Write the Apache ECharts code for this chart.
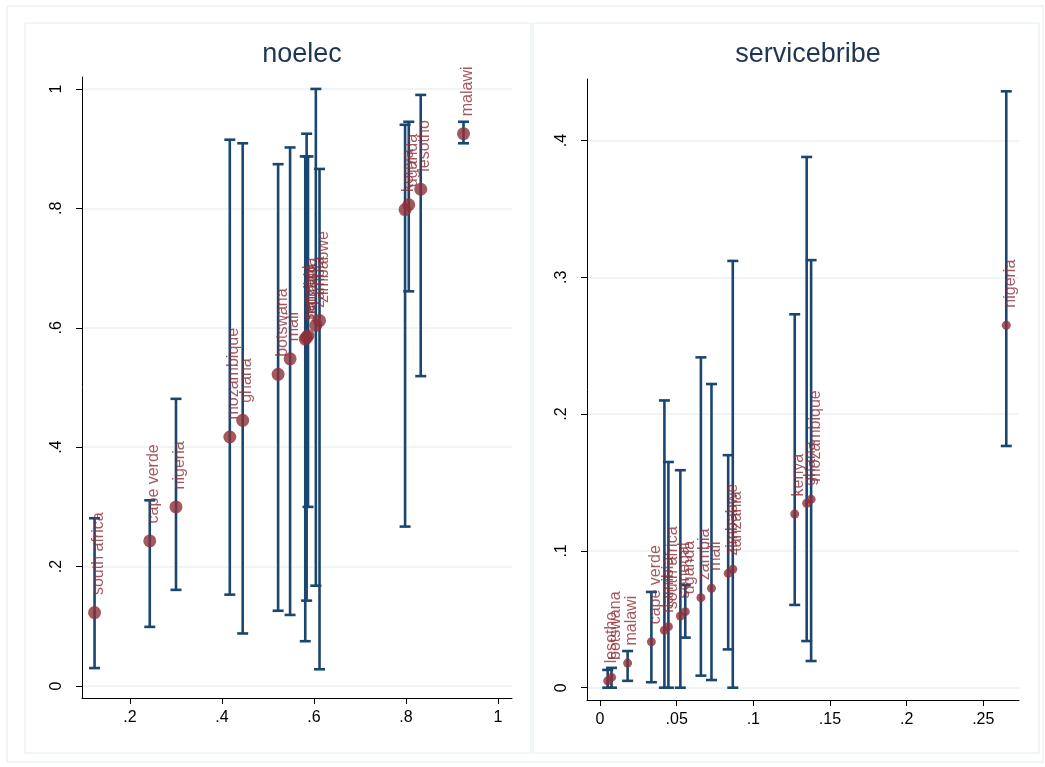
<!DOCTYPE html>
<html>
<head>
<meta charset="utf-8">
<script src="https://cdn.jsdelivr.net/npm/echarts@6/dist/echarts.min.js"></script>
<style>
html,body{margin:0;padding:0;background:#fff;}
#chart{width:1045px;height:767px;}
</style>
</head>
<body>
<div id="chart"></div>
<script>
// ---- noelec panel ----
const countries1 = ["south africa","cape verde","nigeria","mozambique","ghana","botswana","mali","senegal","namibia","tanzania","zambia","zimbabwe","kenya","uganda","lesotho","malawi"];
const mean1 = [0.123,0.243,0.300,0.417,0.445,0.522,0.548,0.581,0.584,0.587,0.604,0.612,0.798,0.806,0.832,0.925];
const lo1   = [0.030,0.099,0.161,0.153,0.088,0.126,0.119,0.075,0.143,0.300,0.168,0.028,0.267,0.661,0.519,0.909];
const hi1   = [0.281,0.311,0.481,0.915,0.909,0.874,0.902,0.887,0.925,0.887,1.000,0.866,0.940,0.945,0.990,0.945];
const xTicks1 = [0.2,0.4,0.6,0.8,1];
const yTicks1 = [0,0.2,0.4,0.6,0.8,1];

// ---- servicebribe panel ----
const countries2 = ["lesotho","botswana","malawi","cape verde","namibia","south africa","senegal","uganda","zambia","mali","zimbabwe","tanzania","kenya","ghana","mozambique","nigeria"];
const mean2 = [0.005,0.0075,0.018,0.0335,0.042,0.0446,0.0524,0.0556,0.0658,0.0727,0.0836,0.0866,0.127,0.1348,0.1377,0.265];
const lo2   = [0,0,0.005,0.004,0,0,0,0.0366,0.0088,0.0056,0.028,0,0.0605,0.0341,0.0195,0.1767];
const hi2   = [0.013,0.0145,0.0268,0.070,0.210,0.165,0.159,0.075,0.2415,0.222,0.170,0.312,0.273,0.388,0.3126,0.436];
const xTicks2 = [0,0.05,0.1,0.15,0.2,0.25];
const yTicks2 = [0,0.1,0.2,0.3,0.4];

const NAVY = '#1a476f', MAROON = '#8c3038', GRIDC = '#eaf2f3', FONT = 'Liberation Sans, Arial, sans-serif';

function fmt(v){
  if (v === 0) return '0';
  if (v === 1) return '1';
  return String(Math.round(v*1000)/1000).replace(/^0\./,'.');
}

function errRender(params, api){
  const x = api.value(0), lo = api.value(1), hi = api.value(2);
  const a = api.coord([x, lo]), b = api.coord([x, hi]);
  const hw = 5.5;
  const st = {stroke: NAVY, lineWidth: 2.6};
  return {type:'group', children:[
    {type:'line', shape:{x1:a[0], y1:a[1], x2:b[0], y2:b[1]}, style:st},
    {type:'line', shape:{x1:a[0]-hw, y1:a[1], x2:a[0]+hw, y2:a[1]}, style:st},
    {type:'line', shape:{x1:b[0]-hw, y1:b[1], x2:b[0]+hw, y2:b[1]}, style:st}
  ]};
}

function mkAxis(type, idx, min, max, ticks, isY){
  return {
    type:'value', gridIndex: idx, min: min, max: max,
    axisLine:{show:true, onZero:false, lineStyle:{color:'#000', width:1}},
    axisTick:{show:true, length:6, inside:false, customValues: ticks, lineStyle:{color:'#000', width:1}},
    axisLabel:{show:true, customValues: ticks, formatter: fmt, fontSize:16, color:'#000', fontFamily: FONT,
               rotate: isY ? 90 : 0, margin: isY ? 17 : 12},
    splitLine:{show: false}
  };
}

function gridSeries(idx, vals){
  return {
    type:'line', xAxisIndex: idx, yAxisIndex: idx, data: [], z: 0, zlevel: 0, silent: true,
    markLine:{
      silent:true, symbol:['none','none'], label:{show:false},
      lineStyle:{color:GRIDC, width:1.5, type:'solid'},
      data: vals.map(v => ({yAxis: v})),
      animation:false, z: 0
    }
  };
}

const err1 = mean1.map((m,i)=>[m, lo1[i], hi1[i]]);
const err2 = mean2.map((m,i)=>[m, lo2[i], hi2[i]]);
const pts1 = mean1.map((m,i)=>({name: countries1[i], value:[m, m]}));
const pts2 = mean2.map((m,i)=>({name: countries2[i], value:[m, m]}));

const chart = echarts.init(document.getElementById('chart'), null, {renderer:'canvas'});
chart.setOption({
  animation:false,
  backgroundColor:'#fff',
  graphic:[
    {type:'rect', shape:{x:7, y:6, width:1036, height:756}, style:{fill:'none', stroke:'#e3ecf0', lineWidth:1}, z:-10},
    {type:'rect', shape:{x:25, y:23, width:506, height:730}, style:{fill:'none', stroke:'#e3ecf0', lineWidth:1}, z:-10},
    {type:'rect', shape:{x:533, y:23, width:506, height:730}, style:{fill:'none', stroke:'#e3ecf0', lineWidth:1}, z:-10}
  ],
  title:[
    {text:'noelec', left:297, top:36, textAlign:'center', textStyle:{fontSize:27, fontWeight:'normal', color:'#1f3552', fontFamily: FONT}},
    {text:'servicebribe', left:803, top:36, textAlign:'center', textStyle:{fontSize:27, fontWeight:'normal', color:'#1f3552', fontFamily: FONT}}
  ],
  grid:[
    {left:82, right:533, top:77, bottom:69},
    {left:587, right:26, top:79, bottom:67}
  ],
  xAxis:[
    mkAxis('x', 0, 0.0957, 1.0304, xTicks1, false),
    mkAxis('x', 1, -0.0085, 0.2733, xTicks2, false)
  ],
  yAxis:[
    mkAxis('y', 0, -0.0201, 1.02, yTicks1, true),
    mkAxis('y', 1, -0.009, 0.445, yTicks2, true)
  ],
  series:[
    gridSeries(0, yTicks1),
    gridSeries(1, yTicks2),
    {type:'custom', xAxisIndex:0, yAxisIndex:0, renderItem: errRender, data: err1,
     encode:{x:0, y:[1,2]}, z:2, zlevel:0},
    {type:'custom', xAxisIndex:1, yAxisIndex:1, renderItem: errRender, data: err2,
     encode:{x:0, y:[1,2]}, z:2, zlevel:0},
    {type:'scatter', xAxisIndex:0, yAxisIndex:0, data: pts1, symbol:'circle', symbolSize:13,
     itemStyle:{color:MAROON}, z:3, zlevel:1,
     label:{show:true, formatter:'{b}', position:'top', distance:11, rotate:90, align:'left', verticalAlign:'middle',
            offset:[0,4], fontSize:16, color:MAROON, fontFamily: FONT}},
    {type:'scatter', xAxisIndex:1, yAxisIndex:1, data: pts2, symbol:'circle', symbolSize:9,
     itemStyle:{color:MAROON}, z:3, zlevel:1,
     label:{show:true, formatter:'{b}', position:'top', distance:13, rotate:90, align:'left', verticalAlign:'middle',
            offset:[0,4], fontSize:16, color:MAROON, fontFamily: FONT}}
  ]
});
</script>
</body>
</html>
